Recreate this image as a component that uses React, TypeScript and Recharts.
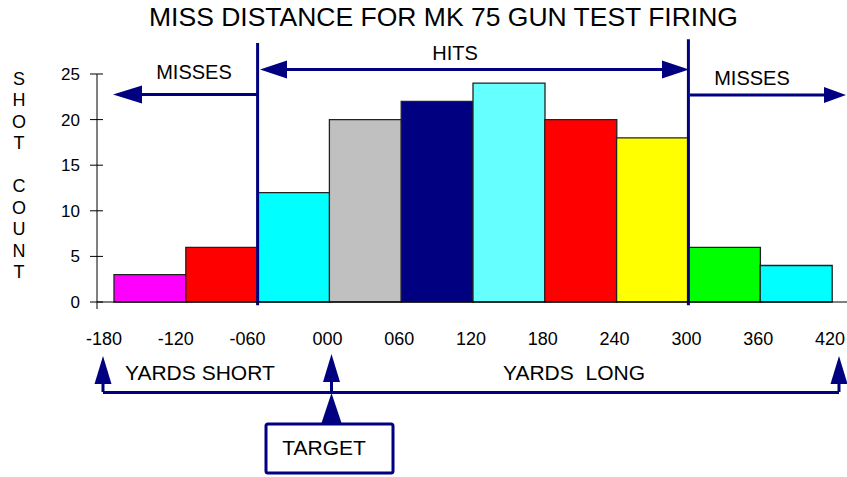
import { BarChart, Bar, Cell, XAxis, YAxis, ReferenceLine } from 'recharts';

// Histogram of miss distance: bins are 60 yd wide, -180 .. 420.
const BIN_START = [-180, -120, -60, 0, 60, 120, 180, 240, 300, 360];
const SHOT_COUNT = [3, 6, 12, 20, 22, 24, 20, 18, 6, 4];
const BAR_COLORS = ['#FF00FF', '#FF0000', '#00FFFF', '#C0C0C0', '#000080', '#66FFFF', '#FF0000', '#FFFF00', '#00FF00', '#00FFFF'];
const X_TICKS = [-180, -120, -60, 0, 60, 120, 180, 240, 300, 360, 420];
const Y_TICKS = [0, 5, 10, 15, 20, 25];
const HIT_LIMITS = [-60, 300];
const Y_LABEL = ['S', 'H', 'O', 'T', '', 'C', 'O', 'U', 'N', 'T'];

const NAVY = '#000080';
const FONT = '"Liberation Sans", Arial, sans-serif';

const data = BIN_START.map((start, i) => ({ start, bin: String(start), count: SHOT_COUNT[i] }));

// "-60" -> "-060", "0" -> "000"
function fmtYards(v: number): string {
  const s = String(Math.abs(v)).padStart(3, '0');
  return v < 0 ? `-${s}` : s;
}

function XTick({ x, y, payload }: any) {
  const v = payload.value as number;
  return (
    <text x={x + (v < 0 ? -10 : -2)} y={y + 41} textAnchor="middle" fontSize={18} fill="#000" fontFamily={FONT}>
      {fmtYards(v)}
    </text>
  );
}

function YTick({ x, y, payload }: any) {
  return (
    <g>
      <line x1={x - 7} y1={y} x2={x + 6} y2={y} stroke="#000" strokeWidth={1} />
      {payload.value === 0 && <line x1={x} y1={y} x2={x} y2={y + 7} stroke="#000" strokeWidth={1} />}
      <text x={x - 17} y={y + 6} textAnchor="end" fontSize={17} fill="#000" fontFamily={FONT}>
        {payload.value}
      </text>
    </g>
  );
}

function HArrow({ from, to, y, head, half }: { from: number; to: number; y: number; head: number; half: number }) {
  const dir = Math.sign(to - from);
  const base = to - dir * head;
  return (
    <g>
      <line x1={from} y1={y} x2={base} y2={y} stroke={NAVY} strokeWidth={3} />
      <polygon points={`${to},${y} ${base},${y - half} ${base},${y + half}`} fill={NAVY} />
    </g>
  );
}

function VArrow({ x, from, to, head, half }: { x: number; from: number; to: number; head: number; half: number }) {
  const dir = Math.sign(to - from);
  const base = to - dir * head;
  return (
    <g>
      <line x1={x} y1={from} x2={x} y2={base} stroke={NAVY} strokeWidth={3} />
      <polygon points={`${x},${to} ${x - half},${base} ${x + half},${base}`} fill={NAVY} />
    </g>
  );
}

function Annotations() {
  return (
    <svg width={847} height={477} style={{ position: 'absolute', left: 0, top: 0, pointerEvents: 'none' }} fontFamily={FONT}>
      <text x={443.5} y={26} textAnchor="middle" fontSize={26.5} fill="#000">
        MISS DISTANCE FOR MK 75 GUN TEST FIRING
      </text>

      {Y_LABEL.map((ch, i) => (
        <text key={i} x={19} y={84.5 + i * 21.5} textAnchor="middle" fontSize={18} fill="#000">
          {ch}
        </text>
      ))}

      {/* hits / misses arrows */}
      <text x={455} y={60} textAnchor="middle" fontSize={20} fill="#000">HITS</text>
      <line x1={287} y1={69.5} x2={662} y2={69.5} stroke={NAVY} strokeWidth={3} />
      <HArrow from={300} to={260} y={69.5} head={27} half={9} />
      <HArrow from={650} to={689} y={69.5} head={27} half={9} />

      <text x={194} y={79} textAnchor="middle" fontSize={20} fill="#000">MISSES</text>
      <HArrow from={259} to={113} y={94.5} head={29} half={9} />

      <text x={752} y={85} textAnchor="middle" fontSize={20} fill="#000">MISSES</text>
      <HArrow from={690} to={846} y={95} head={22} half={8} />

      {/* yards short / long */}
      <text x={125} y={380} fontSize={21} fill="#000">YARDS SHORT</text>
      <text x={503} y={380} fontSize={21} fill="#000" style={{ whiteSpace: 'pre' }}>YARDS  LONG</text>
      <line x1={103} y1={392.5} x2={839} y2={392.5} stroke={NAVY} strokeWidth={3} />
      <VArrow x={103} from={392} to={356} head={28} half={8.5} />
      <VArrow x={331.5} from={392} to={354} head={28} half={8.5} />
      <VArrow x={839} from={392} to={356} head={28} half={8.5} />

      {/* target */}
      <polygon points={`331.5,393 321.5,423 341.5,423`} fill={NAVY} />
      <rect x={266} y={424} width={127} height={49} rx={2} fill="#fff" stroke={NAVY} strokeWidth={3} />
      <text x={324} y={455} textAnchor="middle" fontSize={21} fill="#000">TARGET</text>
    </svg>
  );
}

export default function App() {
  return (
    <div style={{ position: 'absolute', left: 0, top: 0, width: 847, height: 477, background: '#fff' }}>
      <BarChart
        width={847}
        height={477}
        data={data}
        margin={{ top: 74, right: 0, bottom: 130, left: 0 }}
        barCategoryGap={0}
        barGap={0}
      >
        <XAxis
          xAxisId="num"
          dataKey="start"
          type="number"
          domain={[-180, 420]}
          ticks={X_TICKS}
          allowDataOverflow
          padding={{ left: 17, right: 15 }}
          height={45}
          axisLine={{ stroke: '#000', strokeWidth: 1 }}
          tickLine={false}
          tickSize={0}
          tick={<XTick />}
          interval={0}
        />
        <XAxis xAxisId="cat" dataKey="bin" hide height={0} padding={{ left: 17, right: 15 }} />
        <YAxis
          width={97}
          domain={[0, 25]}
          ticks={Y_TICKS}
          axisLine={{ stroke: '#000', strokeWidth: 1 }}
          tickLine={false}
          tickSize={0}
          tickMargin={0}
          tick={<YTick />}
          interval={0}
        />
        <Bar xAxisId="cat" dataKey="count" stroke="#222" strokeWidth={1.3} isAnimationActive={false}>
          {data.map((d, i) => (
            <Cell key={d.bin} fill={BAR_COLORS[i]} />
          ))}
        </Bar>
        {HIT_LIMITS.map((x, i) => (
          <ReferenceLine
            key={x}
            xAxisId="num"
            segment={[{ x, y: -0.35 }, { x, y: i === 0 ? 28.4 : 28.8 }]}
            stroke={NAVY}
            strokeWidth={3}
            ifOverflow="visible"
          />
        ))}
      </BarChart>
      <Annotations />
    </div>
  );
}
